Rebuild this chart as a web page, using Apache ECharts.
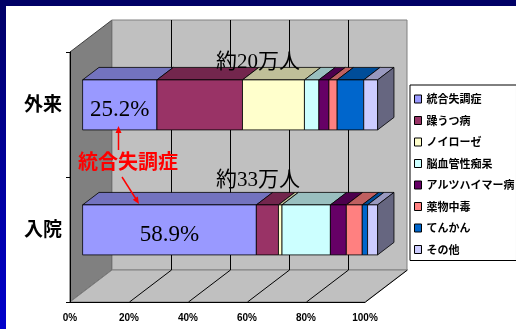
<!DOCTYPE html>
<html>
<head>
<meta charset="utf-8">
<script src="https://cdn.jsdelivr.net/npm/echarts@6/dist/echarts.min.js"></script>
<style>
html,body{margin:0;padding:0;background:#fff;}
#chart{width:516px;height:329px;}
</style>
</head>
<body>
<div id="chart"></div>
<script>
// ---- data ----
const categories = ['外来', '入院'];
const seriesNames = ['統合失調症', '躁うつ病', 'ノイローゼ', '脳血管性痴呆', 'アルツハイマー病', '薬物中毒', 'てんかん', 'その他'];
const outpatientValues = [25.2, 29.0, 21.0, 4.9, 3.4, 2.8, 9.0, 4.7];
const inpatientValues = [58.9, 7.5, 1.2, 16.4, 5.4, 5.4, 1.8, 3.4];
const totals = ['約20万人', '約33万人'];
const xTickValues = [0, 20, 40, 60, 80, 100];
const annotationText = '統合失調症';

// ---- styles ----
const colors = ['#9999FF', '#993366', '#FFFFCC', '#CCFFFF', '#660066', '#FF8080', '#0066CC', '#CCCCFF'];
const DEPTH = [42, -32];      // full depth of the 3D box (px)
const BAR_F0 = 0.30, BAR_F1 = 0.69, BAR_H = 0.40;

function shade(hex, k) {
  const n = parseInt(hex.slice(1), 16);
  const r = Math.round(((n >> 16) & 255) * k), g = Math.round(((n >> 8) & 255) * k), b = Math.round((n & 255) * k);
  return 'rgb(' + r + ',' + g + ',' + b + ')';
}

const valuesByCat = [outpatientValues, inpatientValues];

const chart = echarts.init(document.getElementById('chart'), null, {renderer: 'canvas'});

function barGeom(api, s, e, ci) {
  const p0 = api.coord([s, ci]);
  const p1 = api.coord([e, ci]);
  const band = api.size([0, 1])[1];
  const h = band * BAR_H;
  const ox = BAR_F0 * DEPTH[0], oy = BAR_F0 * DEPTH[1];
  const ddx = (BAR_F1 - BAR_F0) * DEPTH[0], ddy = (BAR_F1 - BAR_F0) * DEPTH[1];
  const yc = p0[1] + oy;
  return {x0: p0[0] + ox, x1: p1[0] + ox, yc: yc, yt: yc - h / 2, yb: yc + h / 2, h: h, ddx: ddx, ddy: ddy};
}

const series = [];
// walls / floor drawn through the axis scale
series.push({
  type: 'custom',
  name: '_walls',
  silent: true,
  z: 0,
  coordinateSystem: 'cartesian2d',
  data: [[0, 0]],
  renderItem: function (params, api) {
    const cs = params.coordSys;
    const x = cs.x, y = cs.y, w = cs.width, h = cs.height;
    const dx = DEPTH[0], dy = DEPTH[1];
    const children = [];
    children.push({type: 'polygon', shape: {points: [[x, y], [x + dx, y + dy], [x + dx, y + h + dy], [x, y + h]]},
      style: {fill: '#808080', stroke: '#404040', lineWidth: 1}});
    children.push({type: 'rect', shape: {x: x + dx, y: y + dy, width: w, height: h},
      style: {fill: '#C0C0C0', stroke: '#808080', lineWidth: 1}});
    children.push({type: 'polygon', shape: {points: [[x, y + h], [x + dx, y + h + dy], [x + w + dx, y + h + dy], [x + w, y + h]]},
      style: {fill: '#C0C0C0', stroke: '#808080', lineWidth: 1}});
    xTickValues.forEach(function (v) {
      if (v === 0) return;
      const px = Math.round(api.coord([v, 0])[0]) + 0.5;
      if (v !== 100) {
        children.push({type: 'line', shape: {x1: px + dx, y1: y + dy, x2: px + dx, y2: y + h + dy},
          style: {stroke: '#000', lineWidth: 1}});
      }
      children.push({type: 'line', shape: {x1: px, y1: y + h, x2: px + dx, y2: y + h + dy},
        style: {stroke: '#000', lineWidth: 1}});
    });
    return {type: 'group', children: children};
  }
});

seriesNames.forEach(function (name, si) {
  const data = categories.map(function (c, ci) {
    const vals = valuesByCat[ci];
    let start = 0;
    for (let k = 0; k < si; k++) start += vals[k];
    return [ci, start, start + vals[si], vals[si]];
  });
  series.push({
    type: 'custom',
    name: name,
    z: 3,
    clip: false,
    coordinateSystem: 'cartesian2d',
    itemStyle: {color: colors[si]},
    encode: {x: [1, 2], y: 0},
    data: data,
    renderItem: function (params, api) {
      const ci = api.value(0), s = api.value(1), e = api.value(2), v = api.value(3);
      const g = barGeom(api, s, e, ci);
      const col = colors[si];
      const children = [];
      children.push({type: 'polygon', shape: {points: [[g.x0, g.yt], [g.x1, g.yt], [g.x1 + g.ddx, g.yt + g.ddy], [g.x0 + g.ddx, g.yt + g.ddy]]},
        style: {fill: shade(col, 0.75), stroke: '#000', lineWidth: 0.8}});
      children.push({type: 'rect', shape: {x: g.x0, y: g.yt, width: g.x1 - g.x0, height: g.h},
        style: {fill: col, stroke: '#000', lineWidth: 0.8}});
      if (si === 0) {
        children.push({type: 'text', style: {text: v.toFixed(1) + '%', x: (g.x0 + g.x1) / 2, y: g.yc + 5,
          align: 'center', verticalAlign: 'middle', fill: '#000',
          font: '23px "Liberation Serif", "DejaVu Serif", serif'}});
      }
      return {type: 'group', children: children};
    }
  });
});

// right side face of each stacked bar (end of the last segment)
series.push({
  type: 'custom',
  name: '_side',
  silent: true,
  z: 4,
  clip: false,
  coordinateSystem: 'cartesian2d',
  encode: {x: 1, y: 0},
  data: categories.map(function (c, ci) {
    return [ci, valuesByCat[ci].reduce(function (a, b) { return a + b; }, 0)];
  }),
  renderItem: function (params, api) {
    const ci = api.value(0), e = api.value(1);
    const g = barGeom(api, 0, e, ci);
    return {type: 'polygon',
      shape: {points: [[g.x1, g.yt], [g.x1 + g.ddx, g.yt + g.ddy], [g.x1 + g.ddx, g.yb + g.ddy], [g.x1, g.yb]]},
      style: {fill: shade(colors[colors.length - 1], 0.5), stroke: '#000', lineWidth: 0.8}};
  }
});

const cjk = '"Noto Sans CJK JP", sans-serif';

const option = {
  animation: false,
  backgroundColor: '#fff',
  grid: {left: 70, top: 52, width: 295, height: 250, containLabel: false},
  xAxis: {
    type: 'value', min: 0, max: 100, interval: 20, z: 5,
    axisLine: {show: true, lineStyle: {color: '#000', width: 1}},
    axisTick: {show: false},
    splitLine: {show: false},
    axisLabel: {formatter: '{value}%', color: '#000', fontSize: 10, fontWeight: 'bold',
      fontFamily: '"Liberation Sans", Arial, sans-serif', margin: 11}
  },
  yAxis: {
    type: 'category', data: categories, inverse: true, z: 5,
    axisLine: {show: true, lineStyle: {color: '#000', width: 1}},
    axisTick: {show: true, length: 4, lineStyle: {color: '#000'}},
    splitLine: {show: false},
    axisLabel: {color: '#000', fontSize: 19, fontWeight: 'bold', fontFamily: cjk, margin: 8,
      verticalAlign: 'bottom', lineHeight: 22}
  },
  legend: {
    data: seriesNames,
    orient: 'vertical', left: 410, top: 85,
    backgroundColor: '#fff', borderColor: '#000', borderWidth: 1,
    padding: [7, 2, 4, 4],
    itemGap: 7.5, itemWidth: 7, itemHeight: 8, icon: 'rect',
    itemStyle: {borderColor: '#000', borderWidth: 1},
    textStyle: {fontSize: 11, fontWeight: 'bold', fontFamily: cjk, color: '#000', lineHeight: 14},
    selectedMode: false
  },
  graphic: [
    {type: 'rect', left: 0, top: 0, shape: {width: 516, height: 6}, style: {fill: '#000066'}, z: 10},
    {type: 'rect', left: 0, top: 0, shape: {width: 6, height: 329}, z: 10,
      style: {fill: new echarts.graphic.LinearGradient(0, 0, 0, 1, [{offset: 0, color: '#000066'}, {offset: 1, color: '#0000CC'}])}},
    {type: 'text', x: 258, y: 62, z: 10, style: {text: totals[0], align: 'center', verticalAlign: 'middle',
      font: '21px "Liberation Serif", "Noto Sans CJK JP", serif', fill: '#000'}},
    {type: 'text', x: 258, y: 180, z: 10, style: {text: totals[1], align: 'center', verticalAlign: 'middle',
      font: '21px "Liberation Serif", "Noto Sans CJK JP", serif', fill: '#000'}},
    {type: 'text', x: 128, y: 161, z: 10, style: {text: annotationText, align: 'center', verticalAlign: 'middle',
      font: 'bold 20px "Noto Sans CJK JP", sans-serif', fill: '#FF0000'}},
    {type: 'line', z: 10, shape: {x1: 118.5, y1: 150, x2: 118.5, y2: 131}, style: {stroke: '#FF0000', lineWidth: 1.5}},
    {type: 'polygon', z: 10, shape: {points: [[118.5, 126], [115.5, 133], [121.5, 133]]}, style: {fill: '#FF0000'}},
    {type: 'line', z: 10, shape: {x1: 122, y1: 177, x2: 136, y2: 199}, style: {stroke: '#FF0000', lineWidth: 1.5}},
    {type: 'polygon', z: 10, shape: {points: [[139, 204], [132.8, 199.7], [137.8, 196.5]]}, style: {fill: '#FF0000'}}
  ],
  series: series
};
chart.setOption(option);
</script>
</body>
</html>
